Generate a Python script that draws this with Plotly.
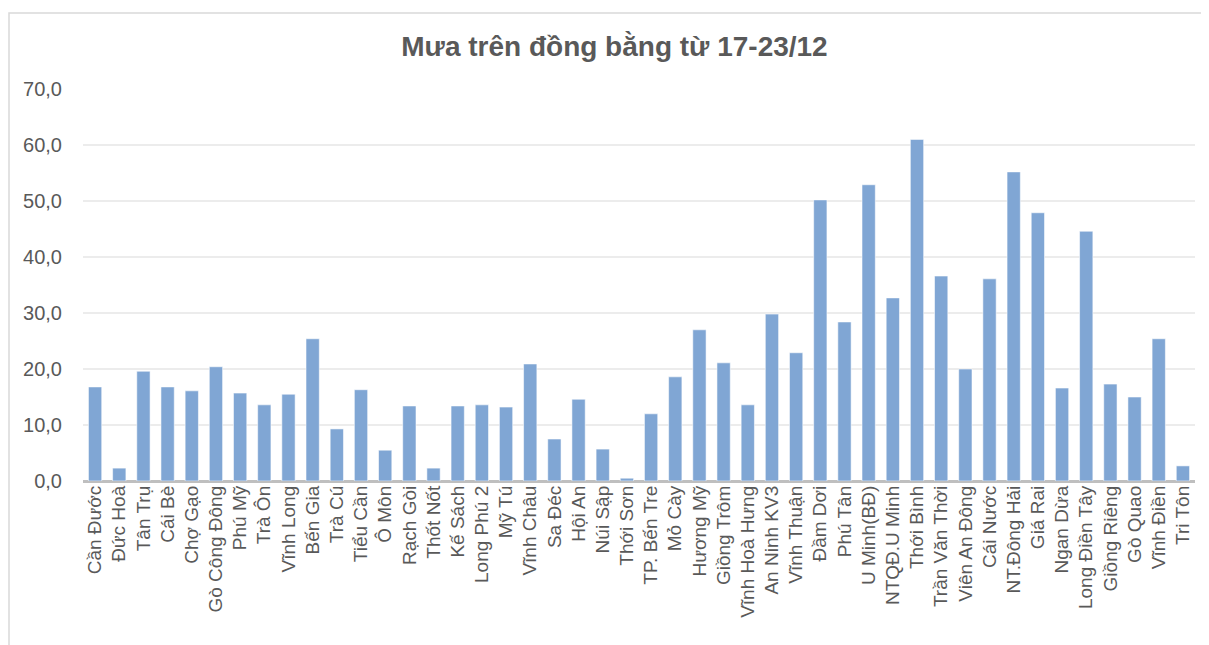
import plotly.graph_objects as go

stations = ["Cần Đước", "Đức Hoà", "Tân Trụ", "Cái Bè", "Chợ Gạo", "Gò Công Đông", "Phú Mỹ",
            "Trà Ôn", "Vĩnh Long", "Bến Gia", "Trà Cú", "Tiểu Cần", "Ô Môn", "Rạch Gòi",
            "Thốt Nốt", "Kế Sách", "Long Phú 2", "Mỹ Tú", "Vĩnh Châu", "Sa Đéc", "Hội An",
            "Núi Sập", "Thới Sơn", "TP. Bến Tre", "Mỏ Cày", "Hương Mỹ", "Giồng Trôm",
            "Vĩnh Hoà Hưng", "An Ninh KV3", "Vĩnh Thuận", "Đầm Dơi", "Phú Tân", "U Minh(BĐ)",
            "NTQĐ.U Minh", "Thới Bình", "Trần Văn Thời", "Viên An Đông", "Cái Nước",
            "NT.Đông Hải", "Giá Rai", "Ngan Dừa", "Long Điền Tây", "Giồng Riêng", "Gò Quao",
            "Vĩnh Điền", "Tri Tôn"]

rain_mm = [16.8, 2.3, 19.6, 16.8, 16.1, 20.4, 15.7,
           13.6, 15.5, 25.4, 9.3, 16.3, 5.5, 13.4,
           2.3, 13.4, 13.6, 13.2, 20.9, 7.5, 14.6,
           5.7, 0.5, 12.0, 18.6, 27.0, 21.1,
           13.6, 29.8, 22.9, 50.2, 28.4, 52.9,
           32.7, 61.0, 36.6, 20.0, 36.1,
           55.2, 47.9, 16.6, 44.6, 17.3, 15.0,
           25.4, 2.7]

title_text = "Mưa trên đồng bằng từ 17-23/12"
y_ticks = [0, 10, 20, 30, 40, 50, 60, 70]

# the page body has an 8px margin, so the figure is sized to fill the rest
W, H = 1201, 637
ml, mr, mt, mb = 75, 14, 81, 164

fig = go.Figure(go.Bar(
    x=stations, y=rain_mm,
    marker=dict(color="#80A6D4", line=dict(color="rgba(255,255,255,0.55)", width=1)),
))

fig.update_layout(
    width=W, height=H,
    margin=dict(l=ml, r=mr, t=mt, b=mb),
    paper_bgcolor="white", plot_bgcolor="white",
    separators=",.",
    bargap=0.45,
    showlegend=False,
    font=dict(family="Liberation Sans, Arial, sans-serif", color="#595959"),
    title=dict(text="<b>" + title_text + "</b>", x=0.505, xanchor="center",
               y=1 - 38 / H, yanchor="middle",
               font=dict(size=28, color="#595959")),
    xaxis=dict(tickmode="array", tickvals=stations, ticktext=stations,
               tickangle=-90, tickfont=dict(size=19, color="#595959"),
               showgrid=False, showline=False, ticks="", automargin=False),
    yaxis=dict(range=[0, 70], tickvals=y_ticks, tickformat=".1f",
               tickfont=dict(size=20, color="#595959"),
               showgrid=True, gridcolor="#ECECEC", gridwidth=1.5,
               zeroline=True, zerolinecolor="#BFBFBF", zerolinewidth=3,
               showline=False, ticks="", ticklabelstandoff=20, automargin=False),
)

pw = W - ml - mr
ph = H - mt - mb
fig.add_shape(type="rect", xref="paper", yref="paper",
              x0=(1 - ml) / pw, x1=(W + 2 - ml) / pw,
              y0=-(H + 2 - mt - ph) / ph, y1=1 + (mt - 5) / ph,
              line=dict(color="#D9D9D9", width=1.5), layer="below")

fig.write_html("out.html")
